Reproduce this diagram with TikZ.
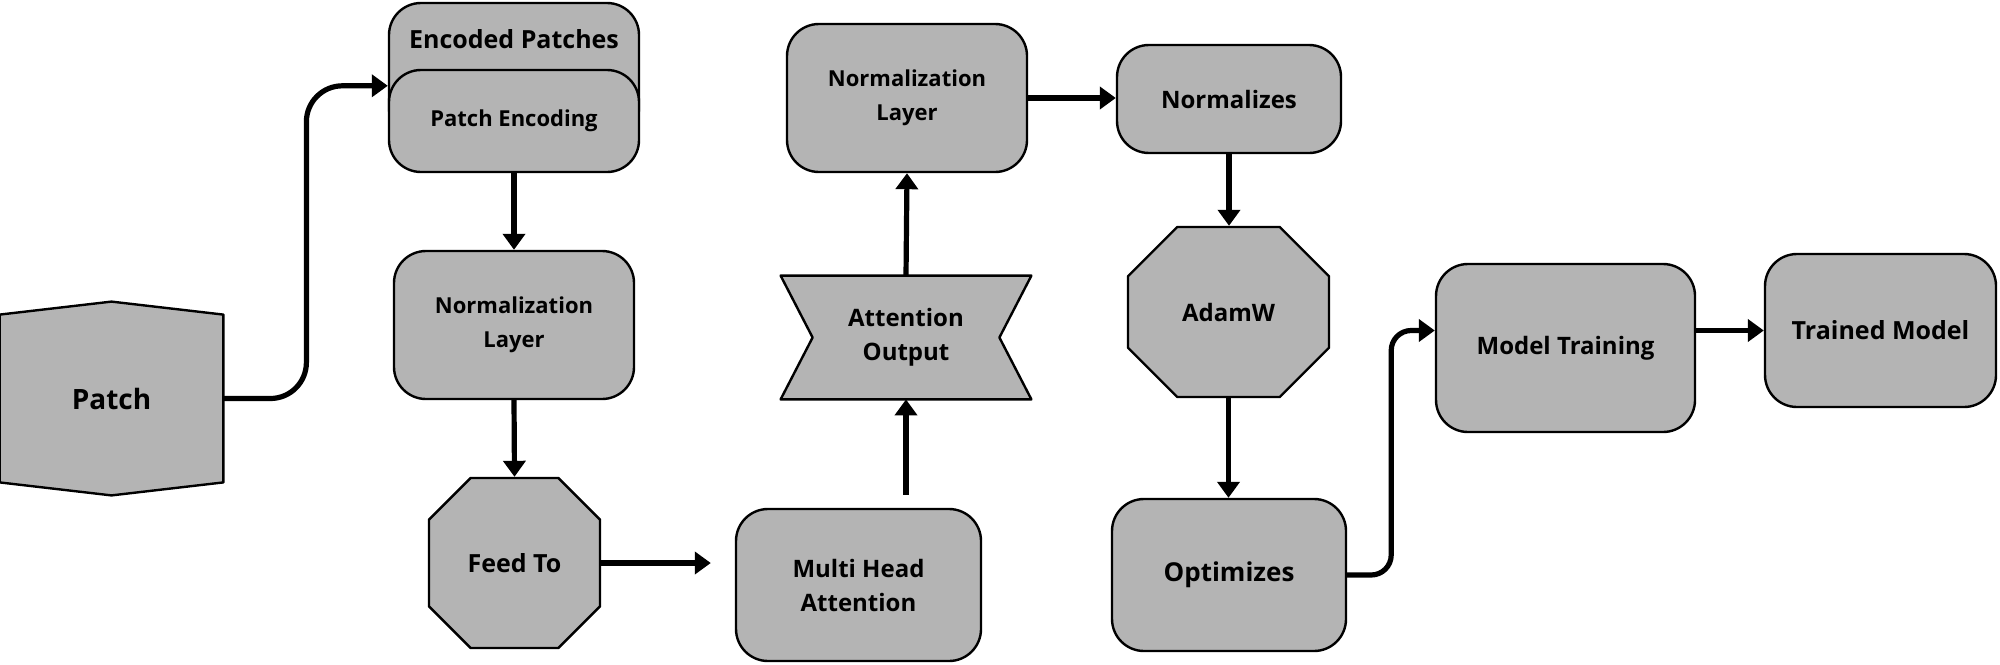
\documentclass[tikz,border=0pt]{standalone}
\usepackage{fontspec}
\setmainfont{Open Sans}
\usetikzlibrary{arrows.meta,shapes.misc,positioning}
\definecolor{BoxGray}{HTML}{B4B4B4}

\tikzset{
  block/.style={draw,fill=BoxGray,line width=1.2pt,rounded corners=16pt,
    inner sep=0pt,align=center,font=\bfseries\fontsize{11}{17}\selectfont},
  octo/.style={draw,fill=BoxGray,line width=1.2pt,chamfered rectangle,
    chamfered rectangle xsep=#1,chamfered rectangle ysep=#1,
    inner sep=0pt,align=center,font=\bfseries\fontsize{12}{17}\selectfont},
  flow/.style={line width=2.6pt,-{Triangle[length=8pt,width=11pt]}},
  sz/.style={font=\bfseries\fontsize{#1}{17}\selectfont}
}

\begin{document}
\begin{tikzpicture}[x=0.5pt,y=-0.5pt,line join=round]
  \useasboundingbox (0,0) rectangle (2000,664);

  % input patch
  \node[minimum width=111.5pt,minimum height=96.5pt,inner sep=0pt] (patch) at (111.5,398.5) {};
  \draw[fill=BoxGray,line width=1.2pt] ([yshift=-6.5pt]patch.north west) -- (patch.north) -- ([yshift=-6.5pt]patch.north east)
    -- ([yshift=6.5pt]patch.south east) -- (patch.south) -- ([yshift=6.5pt]patch.south west) -- cycle;
  \node[sz=14] at (patch) {Patch};

  % encoding stack
  \node[block,minimum width=125pt,minimum height=68.5pt,
    label={[sz=12.5,anchor=north,yshift=-10.5pt]north:Encoded Patches}] (enc) at (514,71.5) {};
  \node[block,minimum width=125pt,minimum height=51pt] (pe) at (514,121) {Patch Encoding};
  \node[block,minimum width=120pt,minimum height=74pt] (norm1) at (514,325) {Normalization\\Layer};
  \node[octo=16pt,minimum width=85.5pt,minimum height=85pt,sz=12.5] (feed) at (514.5,563) {Feed To};

  % attention column
  \node[block,minimum width=122.5pt,minimum height=76pt,sz=12] (mha) at (858.5,585) {Multi Head\\Attention};
  \node[minimum width=125pt,minimum height=61.5pt,inner sep=0pt] (attout) at (906,337.5) {};
  \draw[fill=BoxGray,line width=1.2pt] (attout.north west) -- (attout.north east)
    -- ([xshift=-16pt]attout.east) -- (attout.south east) -- (attout.south west)
    -- ([xshift=16pt]attout.west) -- cycle;
  \node[align=center,sz=12] at (attout) {Attention\\Output};
  \node[block,minimum width=120pt,minimum height=74pt] (norm2) at (907,98) {Normalization\\Layer};

  % optimiser column
  \node[block,minimum width=112pt,minimum height=54pt,sz=12] (normz) at (1229,99) {Normalizes};
  \node[octo=20pt,minimum width=100.5pt,minimum height=85pt,sz=12] (adamw) at (1228.5,312) {AdamW};
  \node[block,minimum width=117pt,minimum height=76pt,sz=13] (optim) at (1229,575) {Optimizes};

  % training
  \node[block,minimum width=129.5pt,minimum height=84pt,sz=12] (train) at (1565.5,348) {Model Training};
  \node[block,minimum width=115.5pt,minimum height=76.5pt,sz=12.5] (trained) at (1880.5,330.5) {Trained Model};

  % connectors
  \draw[flow,rounded corners=18pt] (patch.east) -- ++(83,0) |- ([yshift=-8.5pt]pe.north west);
  \draw[flow] (pe.south) -- (norm1.north);
  \draw[flow] (norm1.south) -- (feed.north);
  \draw[flow,shorten >=12pt] (feed.east) -- (feed.east -| mha.west);
  \draw[flow,shorten <=6.5pt] (attout.south |- mha.north) -- (attout.south);
  \draw[flow] (attout.north) -- (norm2.south);
  \draw[flow] (norm2.east) -- (norm2.east -| normz.west);
  \draw[flow] (normz.south) -- (normz.south |- adamw.north);
  \draw[flow] (adamw.south) -- (adamw.south |- optim.north);
  \draw[flow,rounded corners=10pt] (optim.east) -- ++(44,0) |- (trained.west -| train.west);
  \draw[flow] (trained.west -| train.east) -- (trained.west);
\end{tikzpicture}
\end{document}
